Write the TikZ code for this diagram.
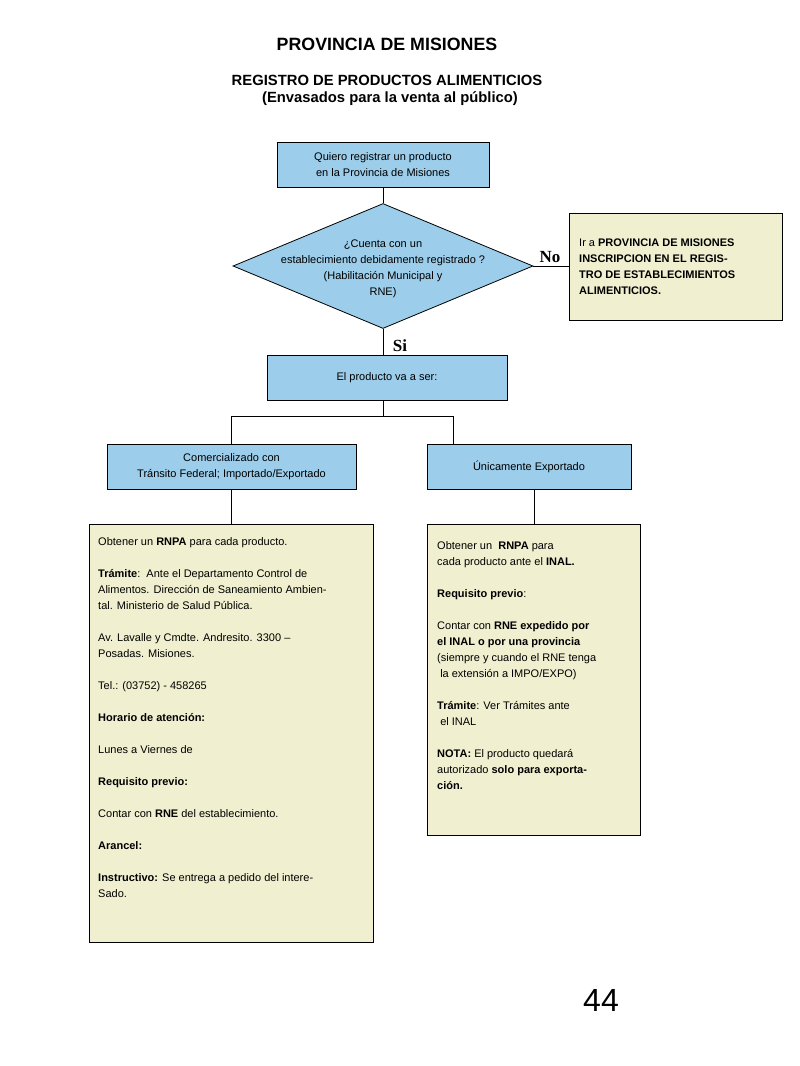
\documentclass[tikz,border=0pt]{standalone}
\usepackage{fontspec}
\setmainfont{Liberation Sans}
\newfontfamily\serifbold{Liberation Serif}
\definecolor{misblue}{HTML}{9CCDEA}
\definecolor{misyellow}{HTML}{F0F0D0}
\usetikzlibrary{positioning,shapes.geometric}

\begin{document}
\begin{tikzpicture}[
  x=1pt, y=-1pt,
  font=\fontsize{11}{16}\selectfont,
  box/.style={draw=black, line width=0.8pt, fill=misblue, align=center, inner sep=0pt},
  note/.style={draw=black, line width=0.8pt, fill=misyellow, inner sep=0pt, anchor=north west},
  txt/.style={align=left, inner sep=0pt, anchor=north west},
  rombo/.style={diamond, draw=black, line width=0.8pt, fill=misblue, inner sep=0pt, minimum width=300pt, minimum height=125pt},
  lin/.style={line width=0.8pt},
  sino/.style={font=\serifbold\bfseries\fontsize{17}{17}\selectfont, inner sep=0pt},
  head/.style={font=\bfseries\fontsize{14.8}{18}\selectfont, inner sep=0pt},
]
  \useasboundingbox (0,0) rectangle (800,1066);
  % Titles
  \node[font=\bfseries\fontsize{17.8}{20}\selectfont, inner sep=0pt] (titulo) at (387,44) {PROVINCIA DE MISIONES};
  \node[head] (registro) at (387,80) {REGISTRO DE PRODUCTOS ALIMENTICIOS};
  \node[head] (envasados) at (390,99) {(Envasados para la venta al público)};
  % Decision
  \node[box, minimum width=212pt, minimum height=45pt] (quiero) at (383,164.5) {Quiero registrar un producto\\en la Provincia de Misiones};
  \node[rombo] (cuenta) at (383,266) {};
  \node[align=center, inner sep=0pt] (cuentatxt) at (383,269) {¿Cuenta con un\\establecimiento debidamente registrado ?\\(Habilitación Municipal y\\RNE)};
  \node[note, minimum width=213pt, minimum height=107pt] (ira) at (569,213) {};
  \node[txt] (iratxt) at (579,239) {Ir a \textbf{PROVINCIA DE MISIONES}\\\textbf{INSCRIPCION EN EL REGIS-}\\\textbf{TRO DE ESTABLECIMIENTOS}\\\textbf{ALIMENTICIOS.}};
  \draw[lin] (quiero) -- (cuenta);
  \draw[lin] (cuenta.east) -- (ira.west |- cuenta.east);
  \node[sino] (no) at (550,257) {No};
  % Destination
  \node[box, minimum width=240pt, minimum height=45pt] (vaaser) at (387,377.5) {El producto va a ser:};
  \draw[lin] (cuenta.south) -- (cuenta.south |- vaaser.north);
  \node[sino] (si) at (400,346) {Si};
  \node[box, minimum width=249pt, minimum height=45pt] (comerc) at (231.5,466.5) {Comercializado con\\Tránsito Federal; Importado/Exportado};
  \node[box, minimum width=204pt, minimum height=45pt] (export) at (529,466.5) {Únicamente Exportado};
  \coordinate (rama) at (383,416);
  \coordinate (ramader) at (453,416);
  \draw[lin] (vaaser.south -| rama) -- (rama);
  \draw[lin] (comerc.north) |- (ramader) -- (ramader |- export.north);
  % Requirements
  \node[note, minimum width=284pt, minimum height=418pt] (izqbox) at (89,524) {};
  \node[txt] (izqtxt) at (98,537) {Obtener un \textbf{RNPA} para cada producto.\\[16pt]
    \textbf{Trámite}:\ \ Ante el Departamento Control de\\
    Alimentos. Dirección de Saneamiento Ambien-\\
    tal. Ministerio de Salud Pública.\\[16pt]
    Av. Lavalle y Cmdte. Andresito. 3300 –\\
    Posadas. Misiones.\\[16pt]
    Tel.: (03752) - 458265\\[16pt]
    \textbf{Horario de atención:}\\[16pt]
    Lunes a Viernes de\\[16pt]
    \textbf{Requisito previo:}\\[16pt]
    Contar con \textbf{RNE} del establecimiento.\\[16pt]
    \textbf{Arancel:}\\[16pt]
    \textbf{Instructivo:} Se entrega a pedido del intere-\\
    Sado.};
  \node[note, minimum width=213pt, minimum height=311pt] (dchabox) at (427,524) {};
  \node[txt] (dchatxt) at (437,541) {Obtener un\ \ \textbf{RNPA} para\\
    cada producto ante el \textbf{INAL.}\\[16pt]
    \textbf{Requisito previo}:\\[16pt]
    Contar con \textbf{RNE expedido por}\\
    \textbf{el INAL o por una provincia}\\
    (siempre y cuando el RNE tenga\\
    \ la extensión a IMPO/EXPO)\\[16pt]
    \textbf{Trámite}: Ver Trámites ante\\
    \ el INAL\\[16pt]
    \textbf{NOTA:} El producto quedará\\
    autorizado \textbf{solo para exporta-}\\
    \textbf{ción.}};
  \draw[lin] (comerc.south) -- (comerc.south |- izqbox.north);
  \draw[lin] (export.south -| dchabox.north) -- (dchabox.north);
  % Page number
  \node[font=\fontsize{32}{32}\selectfont, inner sep=0pt] (pagina) at (601,1000) {44};
\end{tikzpicture}
\end{document}
